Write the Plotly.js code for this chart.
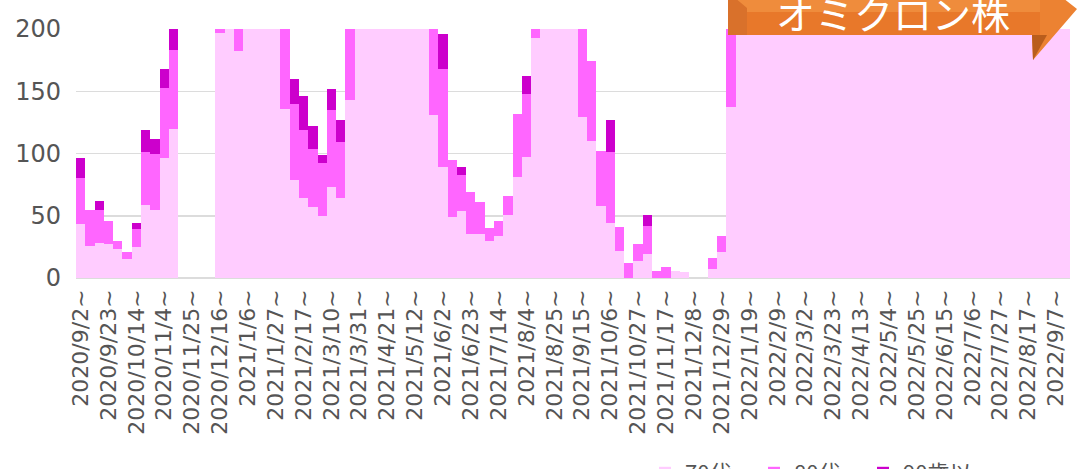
<!DOCTYPE html>
<html>
<head>
<meta charset="utf-8">
<script src="https://cdn.plot.ly/plotly-3.0.1.min.js"></script>
<style>
  html, body { margin: 0; padding: 0; background: #ffffff; }
  #chart { width: 1078px; height: 469px; }
</style>
</head>
<body>
<div id="chart"></div>
<script>
// Weekly categories (week starting)
const weeks = [
  "2020/9/2","2020/9/9","2020/9/16","2020/9/23","2020/9/30","2020/10/7","2020/10/14","2020/10/21","2020/10/28","2020/11/4",
  "2020/11/11","2020/11/18","2020/11/25","2020/12/2","2020/12/9","2020/12/16","2020/12/23","2020/12/30","2021/1/6","2021/1/13",
  "2021/1/20","2021/1/27","2021/2/3","2021/2/10","2021/2/17","2021/2/24","2021/3/3","2021/3/10","2021/3/17","2021/3/24",
  "2021/3/31","2021/4/7","2021/4/14","2021/4/21","2021/4/28","2021/5/5","2021/5/12","2021/5/19","2021/5/26","2021/6/2",
  "2021/6/9","2021/6/16","2021/6/23","2021/6/30","2021/7/7","2021/7/14","2021/7/21","2021/7/28","2021/8/4","2021/8/11",
  "2021/8/18","2021/8/25","2021/9/1","2021/9/8","2021/9/15","2021/9/22","2021/9/29","2021/10/6","2021/10/13","2021/10/20",
  "2021/10/27","2021/11/3","2021/11/10","2021/11/17","2021/11/24","2021/12/1","2021/12/8","2021/12/15","2021/12/22","2021/12/29",
  "2022/1/5","2022/1/12","2022/1/19","2022/1/26","2022/2/2","2022/2/9","2022/2/16","2022/2/23","2022/3/2","2022/3/9",
  "2022/3/16","2022/3/23","2022/3/30","2022/4/6","2022/4/13","2022/4/20","2022/4/27","2022/5/4","2022/5/11","2022/5/18",
  "2022/5/25","2022/6/1","2022/6/8","2022/6/15","2022/6/22","2022/6/29","2022/7/6","2022/7/13","2022/7/20","2022/7/27",
  "2022/8/3","2022/8/10","2022/8/17","2022/8/24","2022/8/31","2022/9/7","2022/9/14"
];

// 70代
const age70 = [
  43,26,28,27,23,15,25,59,55,96,
  120,null,null,null,null,197,260,182,330,420,
  380,250,136,79,64,57,50,73,64,143,
  210,260,320,380,400,360,300,240,131,89,
  49,54,35,35,30,34,51,81,97,193,
  290,360,330,250,129,110,58,44,22,0,
  14,19,0,0,6,5,0,0,7,21,
  137,900,2100,3200,3600,3300,2800,2400,2000,1900,
  1900,1800,1700,1500,1300,1300,1100,900,800,750,
  650,600,650,900,1600,2800,4200,5000,5200,4800,
  4300,3500,2900,2300,1800,1500,1200
];

// 80代
const age80 = [
  37,29,27,19,7,6,14,42,45,57,
  63,null,null,null,null,30,60,70,120,150,
  140,110,100,61,55,47,42,62,45,80,
  70,80,100,110,120,110,90,80,80,79,
  46,29,34,26,10,12,15,51,51,50,
  90,110,100,80,90,64,44,57,19,12,
  13,23,6,9,0,0,0,0,9,13,
  90,350,800,1200,1400,1300,1100,950,800,750,
  750,700,650,600,520,500,430,350,310,290,
  250,230,250,350,620,1100,1650,2000,2100,1950,
  1750,1400,1150,920,720,600,480
];

// 90歳以上
const age90 = [
  16,0,7,0,0,0,5,18,12,15,
  24,null,null,null,null,8,15,20,30,40,
  40,30,30,20,27,18,7,17,18,20,
  15,20,25,30,30,30,25,20,20,28,
  0,6,0,0,0,0,0,0,14,10,
  15,20,20,15,20,0,0,26,0,0,
  0,9,0,0,0,0,0,0,0,0,
  20,110,260,400,460,430,370,320,270,250,
  250,240,220,200,170,165,140,115,100,95,
  85,78,85,115,200,350,530,650,680,630,
  560,450,370,300,230,190,150
];

const seriesNames = ["70代", "80代", "90歳以上"];
const yTicks = [0, 50, 100, 150, 200];
const bannerText = "オミクロン株";

// tick labels every 3 weeks
const tickVals = weeks.filter((w, i) => i % 3 === 0);
const tickText = tickVals.map(w => w + "~");

const colors = ["#ffccff", "#ff66ff", "#cc00cc"];
const traces = [age70, age80, age90].map((vals, k) => ({
  type: "bar",
  x: weeks,
  y: vals,
  name: seriesNames[k],
  marker: { color: colors[k], line: { width: 0 } },
  hoverinfo: "x+y+name"
}));

// pixel -> paper helpers for the decorative banner
const L = 76, R = 1070, T = 29, B = 278;
const px = v => (v - L) / (R - L);
const py = v => (B - v) / (B - T);

const shapes = [
  { type: "rect", xref: "paper", yref: "paper", x0: px(728), x1: px(1048), y0: py(35), y1: py(-8),
    fillcolor: "#e8782a", line: { width: 0 }, layer: "above" },
  { type: "rect", xref: "paper", yref: "paper", x0: px(728), x1: px(1048), y0: py(12), y1: py(-8),
    fillcolor: "#ef8c3c", line: { width: 0 }, layer: "above" },
  { type: "path", xref: "paper", yref: "paper",
    path: `M ${px(728)} ${py(-8)} L ${px(747)} ${py(8)} L ${px(747)} ${py(35)} L ${px(728)} ${py(35)} Z`,
    fillcolor: "#d9712b", line: { width: 0 }, layer: "above" },
  { type: "path", xref: "paper", yref: "paper",
    path: `M ${px(1040)} ${py(-20)} L ${px(1077)} ${py(9)} L ${px(1033)} ${py(60)} L ${px(1032)} ${py(35)} L ${px(1040)} ${py(35)} Z`,
    fillcolor: "#ec8232", line: { width: 0 }, layer: "above" },
  { type: "path", xref: "paper", yref: "paper",
    path: `M ${px(1032)} ${py(35)} L ${px(1033)} ${py(60)} L ${px(1047)} ${py(35)} Z`,
    fillcolor: "#b95d1c", line: { width: 0 }, layer: "above" }
];

const layout = {
  width: 1078,
  height: 469,
  margin: { l: L, r: 1078 - R, t: T, b: 469 - B, autoexpand: false },
  paper_bgcolor: "#ffffff",
  plot_bgcolor: "#ffffff",
  barmode: "stack",
  bargap: 0,
  showlegend: true,
  legend: {
    orientation: "h",
    x: px(645), xanchor: "left",
    y: py(473), yanchor: "middle",
    traceorder: "normal",
    entrywidth: 64,
    font: { family: "Noto Sans CJK JP, sans-serif", size: 22, color: "#555555" },
    bgcolor: "rgba(0,0,0,0)"
  },
  xaxis: {
    type: "category",
    automargin: false,
    range: [-0.5, weeks.length - 0.5],
    tickmode: "array",
    tickvals: tickVals,
    ticktext: tickText,
    tickangle: -90,
    ticks: "",
    ticklabelstandoff: 6,
    tickfont: { family: "DejaVu Sans, sans-serif", size: 22, color: "#555555" },
    showgrid: false,
    showline: false,
    zeroline: false,
    fixedrange: true
  },
  yaxis: {
    automargin: false,
    range: [0, 200],
    tickmode: "array",
    tickvals: yTicks,
    ticks: "",
    ticklabelstandoff: 14,
    tickfont: { family: "DejaVu Sans, sans-serif", size: 24, color: "#555555" },
    showgrid: true,
    gridcolor: "#dcdcdc",
    gridwidth: 1.5,
    zeroline: true,
    zerolinecolor: "#dcdcdc",
    zerolinewidth: 2,
    showline: false,
    fixedrange: true
  },
  shapes: shapes,
  annotations: [{
    text: bannerText,
    xref: "paper", yref: "paper",
    x: px(893), y: py(12),
    xanchor: "center", yanchor: "middle",
    showarrow: false,
    font: { family: "Noto Sans CJK JP, sans-serif", size: 39, color: "#ffffff" }
  }]
};

Plotly.newPlot("chart", traces, layout, { displayModeBar: false, staticPlot: true });
</script>
</body>
</html>
